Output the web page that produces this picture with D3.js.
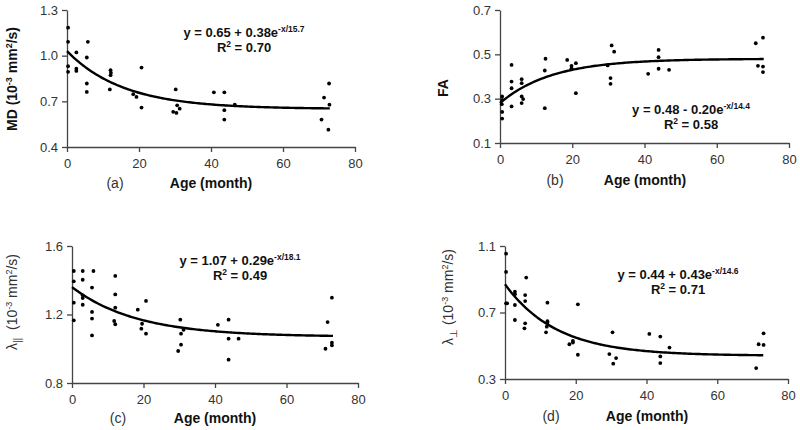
<!DOCTYPE html>
<html>
<head>
<meta charset="utf-8">
<script src="https://cdn.jsdelivr.net/npm/d3@7"></script>
<style>
body { margin: 0; background: #fff; }
svg { font-family: "Liberation Sans", Arial, sans-serif; }
.axis path, .axis line { stroke: #444; stroke-width: 1.3px; }
.axis text { fill: #333; font-size: 13px; }
</style>
</head>
<body>
<svg id="chart" width="800" height="430"></svg>
<script>
var xTicks = [0, 20, 40, 60, 80];

var mdAge = [0.3, 0.3, 0.3, 0.3, 2.6, 2.6, 2.6, 5.8, 5.5, 5.5, 5.5, 11.9, 12.1, 12.2, 12.1,
    18.4, 19.3, 20.7, 20.7, 30.2, 29.5, 30.4, 30.6, 31.3, 40.8, 43.7, 43.7, 43.7, 46.6,
    70.7, 71.4, 72.8, 72.9, 72.6];
var mdVal = [1.184, 1.091, 0.931, 0.894, 1.021, 0.914, 0.900, 1.091, 0.988, 0.817, 0.762, 0.778, 0.905, 0.887, 0.872,
    0.747, 0.729, 0.922, 0.659, 0.778, 0.631, 0.624, 0.674, 0.652, 0.759, 0.759, 0.642, 0.580, 0.678,
    0.580, 0.725, 0.817, 0.678, 0.514];

var faAge = [0.6, 0.6, 0.5, 0.6, 0.6, 3.2, 3.2, 3.2, 3.2, 6.0, 6.0, 6.0, 6.4, 6.0,
    12.6, 12.4, 12.4, 18.6, 19.8, 19.8, 21.0, 21.0, 29.8, 30.9, 31.6, 30.6, 30.6,
    41.0, 43.9, 43.9, 43.9, 46.8, 70.8, 71.4, 72.8, 72.8, 72.8];
var faVal = [0.310, 0.295, 0.275, 0.240, 0.210, 0.452, 0.377, 0.347, 0.265, 0.388, 0.370, 0.310, 0.298, 0.280,
    0.480, 0.427, 0.257, 0.475, 0.448, 0.437, 0.460, 0.325, 0.450, 0.540, 0.512, 0.393, 0.367,
    0.412, 0.520, 0.487, 0.435, 0.430, 0.550, 0.448, 0.575, 0.445, 0.420];

var lpAge = [0.5, 0.5, 0.5, 0.5, 3.0, 3.0, 3.0, 3.0, 3.0, 6.0, 5.6, 5.6, 5.6, 5.6,
    12.1, 12.1, 12.1, 11.8, 12.1, 18.4, 19.6, 19.4, 20.7, 20.7, 30.3, 30.5, 30.5, 29.7, 31.2,
    40.8, 43.8, 43.8, 43.8, 46.6, 70.9, 71.5, 72.7, 72.7, 72.7];
var lpVal = [1.454, 1.394, 1.269, 1.166, 1.454, 1.403, 1.312, 1.296, 1.257, 1.454, 1.357, 1.215, 1.176, 1.078,
    1.425, 1.317, 1.240, 1.162, 1.143, 1.228, 1.146, 1.117, 1.279, 1.088, 1.170, 1.088, 1.024, 0.987, 1.111,
    1.140, 1.170, 1.059, 0.936, 1.059, 1.000, 1.156, 1.298, 1.035, 1.020];

var lrAge = [0.3, 0.3, 0.3, 0.6, 2.8, 2.8, 2.8, 2.8, 6.0, 5.7, 5.7, 5.7, 5.5,
    12.0, 12.0, 12.0, 11.8, 11.6, 18.2, 19.2, 19.2, 20.6, 20.6, 29.5, 30.4, 30.6, 31.4,
    40.8, 43.9, 43.9, 43.9, 46.5, 71.0, 71.7, 73.1, 73.1];
var lrVal = [1.054, 0.944, 0.755, 0.755, 0.825, 0.810, 0.745, 0.655, 0.910, 0.805, 0.769, 0.635, 0.605,
    0.759, 0.648, 0.638, 0.615, 0.581, 0.509, 0.529, 0.519, 0.749, 0.446, 0.450, 0.581, 0.392, 0.426,
    0.571, 0.555, 0.436, 0.396, 0.489, 0.366, 0.509, 0.575, 0.505];

// fit: y = a + b * exp(-x / t)
var fitA = [0.65, 0.48, 1.07, 0.44];
var fitB = [0.38, -0.20, 0.29, 0.43];
var fitT = [15.7, 14.4, 18.1, 14.6];
var eqMain = ["y = 0.65 + 0.38e", "y = 0.48 - 0.20e", "y = 1.07 + 0.29e", "y = 0.44 + 0.43e"];
var eqSup = ["-x/15.7", "-x/14.4", "-x/18.1", "-x/14.6"];
var rSquared = ["0.70", "0.58", "0.49", "0.71"];
var panelTags = ["(a)", "(b)", "(c)", "(d)"];

var yDomains = [[0.4, 1.3], [0.1, 0.7], [0.8, 1.6], [0.3, 1.1]];
var yTicks = [[0.4, 0.7, 1.0, 1.3], [0.1, 0.3, 0.5, 0.7], [0.8, 1.2, 1.6], [0.3, 0.7, 1.1]];

var svg = d3.select("#chart");

var panels = [
    { age: mdAge, val: mdVal, x: [67, 355], y: [147, 10], eq: [244, 37], tag: 115, title: 211, base: 188, ylab: [12, 79], ylabel: "md" },
    { age: faAge, val: faVal, x: [500, 789], y: [143, 10], eq: [691, 114], tag: 555, title: 645, base: 185, ylab: [443, 88], ylabel: "fa" },
    { age: lpAge, val: lpVal, x: [72, 358], y: [383, 246], eq: [240, 265], tag: 118, title: 215, base: 423, ylab: [12, 302], ylabel: "lpar" },
    { age: lrAge, val: lrVal, x: [505, 788], y: [379, 246], eq: [678, 279], tag: 551, title: 647, base: 421, ylab: [448, 297], ylabel: "lperp" }
];

panels.forEach(function (p, i) {
    drawPanel(p, i);
});

function drawPanel(p, i) {
    var x = d3.scaleLinear().domain([0, 80]).range(p.x);
    var y = d3.scaleLinear().domain(yDomains[i]).range(p.y);
    var g = svg.append("g");

    g.append("g")
        .attr("class", "axis")
        .attr("transform", "translate(0," + p.y[0] + ")")
        .call(d3.axisBottom(x).tickValues(xTicks).tickSize(5).tickSizeOuter(0).tickPadding(7));

    g.append("g")
        .attr("class", "axis")
        .attr("transform", "translate(" + p.x[0] + ",0)")
        .call(d3.axisLeft(y).tickValues(yTicks[i]).tickSize(5).tickSizeOuter(0).tickPadding(4).tickFormat(d3.format(".1f")));

    g.selectAll(".axis .domain").attr("stroke", "#444");

    var ages = d3.range(0, 73.01, 0.5);
    var line = d3.line()
        .x(function (d) { return x(d); })
        .y(function (d) { return y(fitA[i] + fitB[i] * Math.exp(-d / fitT[i])); });
    g.append("path")
        .datum(ages)
        .attr("d", line)
        .attr("fill", "none")
        .attr("stroke", "#000")
        .attr("stroke-width", 2.4);

    g.selectAll("circle.pt")
        .data(p.age)
        .enter()
        .append("circle")
        .attr("class", "pt")
        .attr("cx", function (d) { return x(d); })
        .attr("cy", function (d, k) { return y(p.val[k]); })
        .attr("r", 1.9)
        .attr("fill", "#000");

    var eq = g.append("text")
        .attr("x", p.eq[0])
        .attr("y", p.eq[1])
        .attr("text-anchor", "middle")
        .attr("font-size", 13)
        .attr("font-weight", "bold")
        .attr("fill", "#111");
    eq.append("tspan").text(eqMain[i]);
    eq.append("tspan").attr("dy", -5).attr("font-size", 8.5).text(eqSup[i]);

    var r2 = g.append("text")
        .attr("x", p.eq[0])
        .attr("y", p.eq[1] + 15)
        .attr("text-anchor", "middle")
        .attr("font-size", 13)
        .attr("font-weight", "bold")
        .attr("fill", "#111");
    r2.append("tspan").text("R");
    r2.append("tspan").attr("dy", -5).attr("font-size", 8.5).text("2");
    r2.append("tspan").attr("dy", 5).text(" = " + rSquared[i]);

    g.append("text")
        .attr("x", p.tag)
        .attr("y", p.base)
        .attr("text-anchor", "middle")
        .attr("font-size", 14)
        .attr("fill", "#333")
        .text(panelTags[i]);

    g.append("text")
        .attr("x", p.title)
        .attr("y", p.base)
        .attr("text-anchor", "middle")
        .attr("font-size", 14)
        .attr("font-weight", "bold")
        .attr("fill", "#111")
        .text("Age (month)");

    drawYLabel(g, p);
}

function drawYLabel(g, p) {
    var t = g.append("text")
        .attr("transform", "translate(" + (p.ylab[0] + 5) + "," + p.ylab[1] + ") rotate(-90)")
        .attr("text-anchor", "middle")
        .attr("font-size", 14)
        .attr("fill", "#111");

    if (p.ylabel == "fa") {
        t.attr("font-weight", "bold").text("FA");
        return;
    }
    if (p.ylabel == "md") {
        t.attr("font-weight", "bold");
        t.append("tspan").text("MD (10");
    } else if (p.ylabel == "lpar") {
        t.attr("fill", "#333");
        t.append("tspan").text("\u03bb");
        t.append("tspan").attr("dy", 4).attr("font-size", 10).text("||");
        t.append("tspan").attr("dy", -4).text("\u00a0\u00a0(10");
    } else {
        t.attr("fill", "#333");
        t.append("tspan").text("\u03bb");
        t.append("tspan").attr("dy", 4).attr("font-size", 10).text("\u22a5");
        t.append("tspan").attr("dy", -4).text(" (10");
    }
    t.append("tspan").attr("dy", -5).attr("font-size", 9).text("-3");
    t.append("tspan").attr("dy", 5).text(" mm");
    t.append("tspan").attr("dy", -5).attr("font-size", 9).text("2");
    t.append("tspan").attr("dy", 5).text("/s)");
}
</script>
</body>
</html>
